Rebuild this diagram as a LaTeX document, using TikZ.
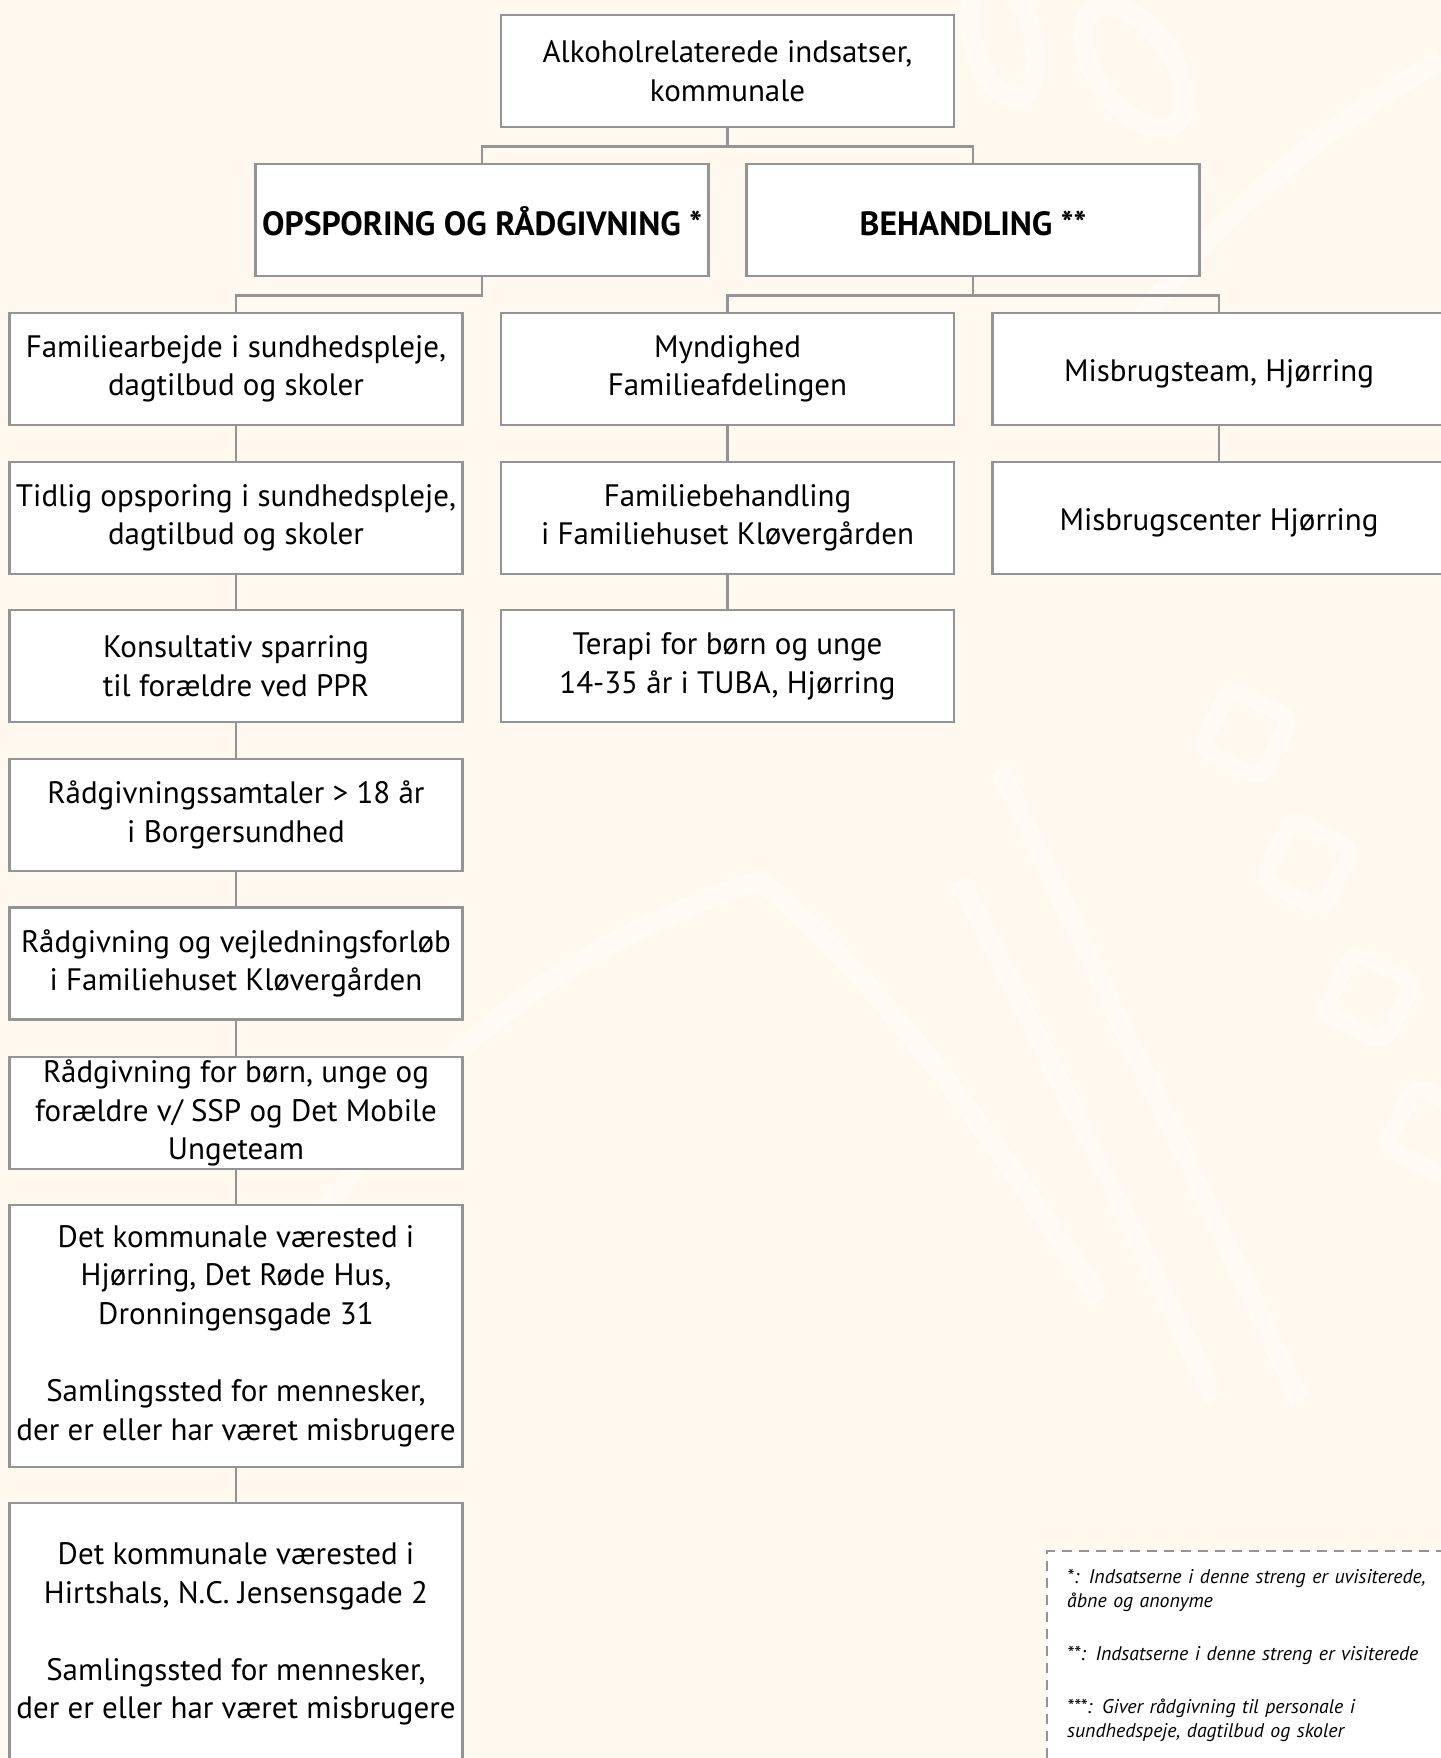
\documentclass[tikz,border=0pt]{standalone}
\usepackage{fontspec}
\setmainfont{PT Sans}
\usepackage{xcolor}
\usetikzlibrary{positioning}
\definecolor{creme}{HTML}{FFF8EE}
\definecolor{kant}{HTML}{949494}
\definecolor{skygge}{HTML}{FFFBF4}
\tikzset{font={\fontsize{15.5pt}{19.3pt}\selectfont}}

\begin{document}
\begin{tikzpicture}[x=0.5pt,y=-0.5pt,
boks/.style={draw=kant,line width=1.4pt,fill=white,minimum width=226.5pt,minimum height=56pt,align=center,inner sep=0pt,execute at begin node={\rule{0pt}{15.5pt}}},
hoj/.style={boks,minimum height=131pt},
overskrift/.style={boks,font={\fontsize{16.8pt}{20pt}\bfseries\selectfont}},
forb/.style={draw=kant,line width=1.4pt},
note/.style={draw=kant,line width=1.2pt,dash pattern=on 5pt off 3.5pt,fill=white,anchor=north west,align=left,text width=210pt,inner xsep=10pt,inner ysep=9pt,font={\fontsize{9.9pt}{12.3pt}\itshape\selectfont}}
]
\useasboundingbox (0,0) rectangle (1441,1758);
\fill[creme] (0,0) rectangle (1441,1758);

%watermark
\foreach \x/\y in {1245/733,1307/864,1368/997,1430/1131}
  \draw[skygge,line width=8.5pt,rounded corners=6pt,rotate around={-27:(\x,\y)}] (\x-34,\y-34) rectangle (\x+34,\y+34);
\draw[skygge,line width=10pt] (1000,770) -- (1253,1300) -- (1300,1400);
\draw[skygge,line width=10pt] (960,880) -- (1167,1300) -- (1215,1400);
\draw[skygge,line width=10pt] (1441,60) .. controls (1300,140) and (1160,260) .. (1080,420);
\draw[skygge,line width=10pt,rotate around={15:(1003,40)}] (1003,40) ellipse (30 and 60);
\draw[skygge,line width=10pt,rotate around={35:(1134,67)}] (1134,67) ellipse (38 and 70);
\draw[skygge,line width=10pt] (300,1250) .. controls (420,1050) and (560,950) .. (760,880) .. controls (900,1000) and (1000,1150) .. (1100,1300);

\node[boks] (top) at (727.5,71) {Alkoholrelaterede indsatser,\\kommunale};
\node[overskrift] (opsp) at (482,220) {OPSPORING OG RÅDGIVNING *};
\node[overskrift] (beh) at (973,220) {BEHANDLING **};

%venstre streng
\node[boks] (v1) at (236,369) {Familiearbejde i sundhedspleje,\\dagtilbud og skoler};
\node[boks] (v2) at (236,518) {Tidlig opsporing i sundhedspleje,\\dagtilbud og skoler};
\node[boks] (v3) at (236,666) {Konsultativ sparring\\til forældre ved PPR};
\node[boks] (v4) at (236,815) {Rådgivningssamtaler > 18 år\\i Borgersundhed};
\node[boks] (v5) at (236,963.5) {Rådgivning og vejledningsforløb\\i Familiehuset Kløvergården};
\node[boks] (v6) at (236,1113) {Rådgivning for børn, unge og\\forældre v/ SSP og Det Mobile\\Ungeteam};
\node[hoj] (v7) at (236,1336) {Det kommunale værested i\\Hjørring, Det Røde Hus,\\Dronningensgade 31\\[19.3pt]Samlingssted for mennesker,\\der er eller har været misbrugere};
\node[hoj] (v8) at (236,1634) {Det kommunale værested i\\Hirtshals, N.C. Jensensgade 2\\[19.3pt]Samlingssted for mennesker,\\der er eller har været misbrugere};

%midten
\node[boks] (m1) at (727.5,369) {Myndighed\\Familieafdelingen};
\node[boks] (m2) at (727.5,518) {Familiebehandling\\i Familiehuset Kløvergården};
\node[boks] (m3) at (727.5,666) {Terapi for børn og unge\\14-35 år i TUBA, Hjørring};

%hoejre
\node[boks] (h1) at (1219,369) {Misbrugsteam, Hjørring};
\node[boks] (h2) at (1219,518) {Misbrugscenter Hjørring};

%forbindelser
\draw[forb] (top.south) -- +(0,18) -| (opsp.north);
\draw[forb] (top.south) -- +(0,18) -| (beh.north);
\draw[forb] (opsp.south) -- +(0,18) -| (v1.north);
\draw[forb] (beh.south) -- +(0,18) -| (m1.north);
\draw[forb] (beh.south) -- +(0,18) -| (h1.north);
\foreach \a/\b in {v1/v2,v2/v3,v3/v4,v4/v5,v5/v6,v6/v7,v7/v8,m1/m2,m2/m3,h1/h2}
  \draw[forb] (\a.south) -- (\b.north);

\node[note] (note) at (1046,1550) {*: Indsatserne i denne streng er uvisiterede,\\åbne og anonyme\\[14pt]**: Indsatserne i denne streng er visiterede\\[14pt]***: Giver rådgivning til personale i\\sundhedspeje, dagtilbud og skoler\\[12pt]\strut};

\end{tikzpicture}
\end{document}
